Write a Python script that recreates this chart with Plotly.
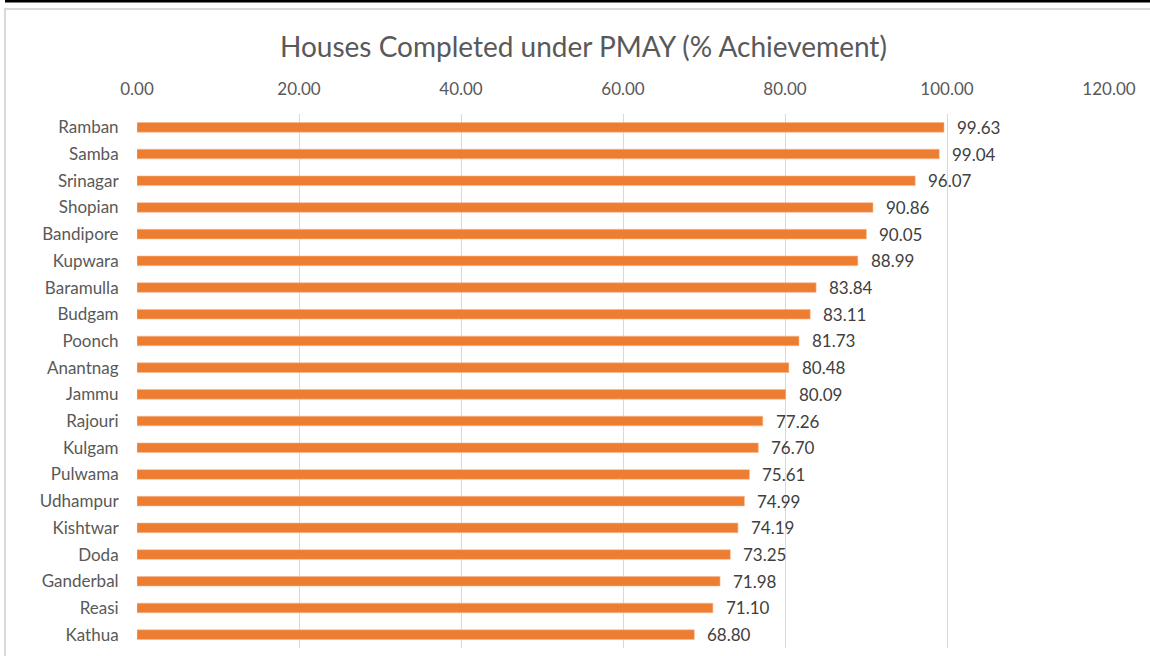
import plotly.graph_objects as go

districts = ["Ramban", "Samba", "Srinagar", "Shopian", "Bandipore", "Kupwara",
             "Baramulla", "Budgam", "Poonch", "Anantnag", "Jammu", "Rajouri",
             "Kulgam", "Pulwama", "Udhampur", "Kishtwar", "Doda", "Ganderbal",
             "Reasi", "Kathua"]
achievement = [99.63, 99.04, 96.07, 90.86, 90.05, 88.99, 83.84, 83.11, 81.73,
               80.48, 80.09, 77.26, 76.70, 75.61, 74.99, 74.19, 73.25, 71.98,
               71.10, 68.80]
x_ticks = [0, 20, 40, 60, 80, 100, 120]

W, H = 1150, 656
L, R, T, B = 137, 1109, 114, 648

def px_x(p):
    return (p - L) / (R - L)

def px_y(p):
    return (B - p) / (B - T)

FONT = "Lato, Carlito, 'Liberation Sans', sans-serif"

fig = go.Figure()
fig.add_trace(go.Bar(
    y=districts, x=achievement, orientation="h",
    marker=dict(color="#ED7D31", line=dict(color="#F6B990", width=0.6)),
    hoverinfo="x+y",
))

annotations = []
for d, v in zip(districts, achievement):
    annotations.append(dict(
        x=v, y=d, xref="x", yref="y", text=f"{v:.2f}", showarrow=False,
        xanchor="left", yanchor="middle", xshift=11,
        font=dict(family=FONT, size=17, color="#404040"),
    ))

annotations.append(dict(
    x=px_x(583), y=px_y(46), xref="paper", yref="paper",
    text="Houses Completed under PMAY (% Achievement)", showarrow=False,
    xanchor="center", yanchor="middle",
    font=dict(family=FONT, size=28, color="#595959"),
))

shapes = [
    dict(type="rect", xref="paper", yref="paper",
         x0=px_x(5), x1=px_x(1160), y0=px_y(9), y1=px_y(670),
         line=dict(color="#D9D9D9", width=2), fillcolor="rgba(0,0,0,0)", layer="below"),
    dict(type="rect", xref="paper", yref="paper",
         x0=px_x(5), x1=px_x(1160), y0=px_y(0), y1=px_y(2.5),
         line=dict(width=0), fillcolor="#000000"),
]

fig.update_layout(
    width=W, height=H,
    margin=dict(l=L, r=W - R, t=T, b=H - B, pad=0),
    paper_bgcolor="white", plot_bgcolor="white",
    showlegend=False,
    bargap=0.64,
    annotations=annotations,
    shapes=shapes,
    font=dict(family=FONT, color="#595959"),
)
fig.update_xaxes(
    side="top", range=[0, 120], tickvals=x_ticks,
    ticktext=[f"{t:.2f}" for t in x_ticks],
    showgrid=True, gridcolor="#D9D9D9", gridwidth=1,
    zeroline=False, showline=False,
    ticks="outside", ticklen=11, tickcolor="rgba(0,0,0,0)",
    tickfont=dict(family=FONT, size=17, color="#595959"),
    fixedrange=True,
)
fig.update_yaxes(
    autorange="reversed", showgrid=False, zeroline=False, showline=False,
    ticks="outside", ticklen=14, tickcolor="rgba(0,0,0,0)",
    tickfont=dict(family=FONT, size=17, color="#595959"),
    fixedrange=True,
)

fig.write_html("out.html", config={"displayModeBar": False},
               post_script="document.body.style.margin='0px';document.body.style.overflow='hidden';")
